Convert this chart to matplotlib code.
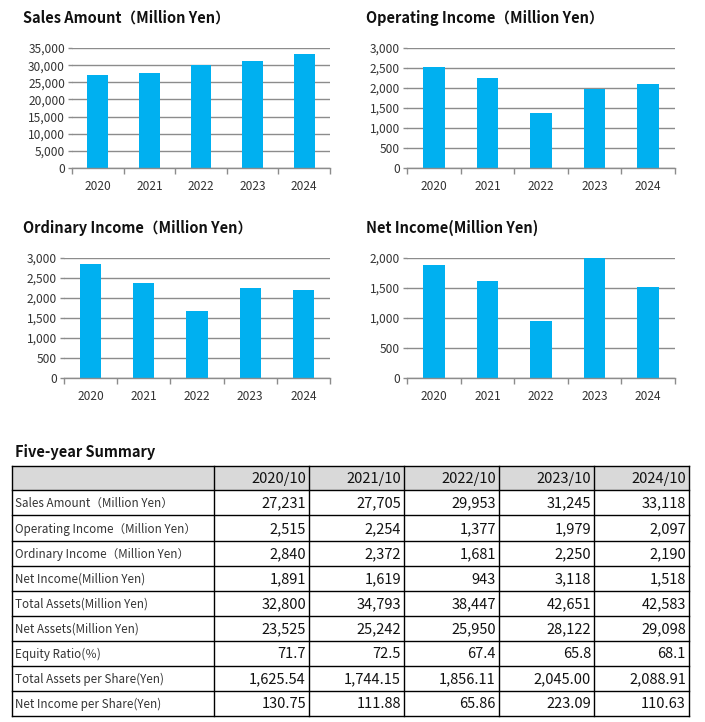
import matplotlib
matplotlib.use("Agg")
import matplotlib.pyplot as plt
from matplotlib.patches import Rectangle
from matplotlib.ticker import FuncFormatter, FixedLocator

plt.rcParams['font.family'] = ['Noto Sans CJK JP', 'DejaVu Sans']

# ---------------- data ----------------
years = ["2020", "2021", "2022", "2023", "2024"]
sales = [27231, 27705, 29953, 31245, 33118]
operating = [2515, 2254, 1377, 1979, 2097]
ordinary = [2840, 2372, 1681, 2250, 2190]
net_income = [1891, 1619, 943, 3118, 1518]

chart_titles = ["Sales Amount（Million Yen）", "Operating Income（Million Yen）",
                "Ordinary Income（Million Yen）", "Net Income(Million Yen)"]
chart_ylims = [35000, 3000, 3000, 2000]
chart_ysteps = [5000, 500, 500, 500]

table_title = "Five-year Summary"
table_header = ["2020/10", "2021/10", "2022/10", "2023/10", "2024/10"]
row_labels = ["Sales Amount（Million Yen）", "Operating Income（Million Yen）",
              "Ordinary Income（Million Yen）", "Net Income(Million Yen)",
              "Total Assets(Million Yen)", "Net Assets(Million Yen)",
              "Equity Ratio(％)", "Total Assets per Share(Yen)",
              "Net Income per Share(Yen)"]
total_assets = [32800, 34793, 38447, 42651, 42583]
net_assets = [23525, 25242, 25950, 28122, 29098]
equity_ratio = [71.7, 72.5, 67.4, 65.8, 68.1]
assets_per_share = [1625.54, 1744.15, 1856.11, 2045.00, 2088.91]
eps = [130.75, 111.88, 65.86, 223.09, 110.63]
row_decimals = [0, 0, 0, 0, 0, 0, 1, 2, 2]

# ---------------- layout ----------------
W, H = 705, 722
fig = plt.figure(figsize=(W / 100, H / 100), dpi=100)

BAR = "#00B0F0"
GRID = "#8C8C8C"
TXT = "#333333"

def px_axes(l, r, t, b):
    return fig.add_axes([l / W, (H - b) / H, (r - l) / W, (b - t) / H])

axes_px = [(72, 330, 48, 168), (407, 675, 48, 168),
           (64, 330, 258, 378), (407, 675, 258, 378)]
title_px = [(23, 18), (366, 18), (23, 228), (366, 228)]
series = [sales, operating, ordinary, net_income]

for i, vals in enumerate(series):
    ax = px_axes(*axes_px[i])
    x = list(range(len(years)))
    ax.bar(x, vals, width=0.4, color=BAR, zorder=3)
    ax.set_xlim(-0.5, len(years) - 0.5)
    ax.set_ylim(0, chart_ylims[i])
    ticks = list(range(0, chart_ylims[i] + 1, chart_ysteps[i]))
    ax.set_yticks(ticks)
    ax.yaxis.set_major_formatter(FuncFormatter(lambda v, p: f"{int(v):,}"))
    for t in ticks:
        ax.axhline(t, color=GRID, lw=1.0, zorder=1)
    for s in ["left", "right", "top"]:
        ax.spines[s].set_visible(False)
    ax.spines["bottom"].set_color(GRID)
    ax.spines["bottom"].set_linewidth(1.0)
    ax.spines["bottom"].set_zorder(4)
    ax.tick_params(axis="y", length=3, width=1.0, color=GRID, labelsize=8.6,
                   labelcolor=TXT, pad=2)
    ax.set_xticks(x)
    ax.set_xticklabels(years)
    ax.xaxis.set_minor_locator(FixedLocator([k - 0.5 for k in range(len(years) + 1)]))
    ax.tick_params(axis="x", which="major", length=0, labelsize=8.6,
                   labelcolor=TXT, pad=9)
    ax.tick_params(axis="x", which="minor", length=4, width=1.0, color=GRID)
    ax.patch.set_alpha(0)
    tx, ty = title_px[i]
    fig.text(tx / W, 1 - ty / H, chart_titles[i], fontsize=10.5,
             fontweight="bold", ha="left", va="center", color="#111111")

# ---------------- table ----------------
tab = fig.add_axes([0, 0, 1, 1])
tab.set_xlim(0, W)
tab.set_ylim(H, 0)
tab.axis("off")
tab.patch.set_alpha(0)

tab.text(15, 452, table_title, fontsize=10.5, fontweight="bold",
         ha="left", va="center", color="#111111")

col_edges = [12, 214, 309, 404, 499, 594, 689]
row_edges = [466, 490, 515, 541, 566, 591, 616, 641, 666, 691, 716]

tab.add_patch(Rectangle((col_edges[0], row_edges[0]),
                        col_edges[-1] - col_edges[0], row_edges[1] - row_edges[0],
                        facecolor="#D9D9D9", edgecolor="none", zorder=1))
for xe in col_edges:
    tab.plot([xe, xe], [row_edges[0], row_edges[-1]], color="black", lw=1.0, zorder=2)
for ye in row_edges:
    tab.plot([col_edges[0], col_edges[-1]], [ye, ye], color="black", lw=1.0, zorder=2)

for j, h in enumerate(table_header):
    tab.text(col_edges[j + 2] - 3, (row_edges[0] + row_edges[1]) / 2 + 1, h,
             fontsize=10.5, ha="right", va="center", color="#111111")

table_rows = [sales, operating, ordinary, net_income, total_assets,
              net_assets, equity_ratio, assets_per_share, eps]
for r, (lab, vals, dec) in enumerate(zip(row_labels, table_rows, row_decimals)):
    yc = (row_edges[r + 1] + row_edges[r + 2]) / 2 + 1
    tab.text(col_edges[0] + 3, yc, lab, fontsize=8.4, ha="left", va="center",
             color=TXT)
    for j, v in enumerate(vals):
        tab.text(col_edges[j + 2] - 3, yc, f"{v:,.{dec}f}", fontsize=10.5,
                 ha="right", va="center", color="#111111")

fig.savefig("out.png", dpi=100)
